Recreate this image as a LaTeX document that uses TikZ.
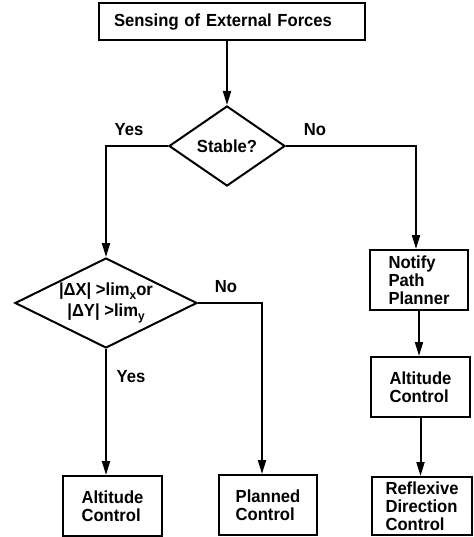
\documentclass[tikz,border=0pt]{standalone}
\usepackage{fontspec}
\setmainfont[FakeStretch=0.95]{Liberation Sans}
\usetikzlibrary{shapes.geometric,arrows.meta}
\newcommand{\lowsub}[1]{\raisebox{-3.5pt}{\fontsize{12.5}{12.5}\selectfont #1}}
\tikzset{
  every node/.style={font=\fontsize{17.5}{18}\selectfont\bfseries},
  box/.style={draw, line width=2pt, rectangle, inner sep=0pt, align=left},
  dec/.style={draw, line width=2pt, diamond, inner sep=0pt, align=center},
  lbl/.style={inner sep=0pt},
  conn/.style={line width=2pt},
  arr/.style={conn, -{Triangle[length=14pt,width=8pt]}},
}
\begin{document}
\begin{tikzpicture}[x=1pt,y=-1pt]
\useasboundingbox (0,0) rectangle (473,537);
% nodes
\node[box, minimum width=266pt, minimum height=37pt, text width=236pt, inner xsep=15pt] (sense) at (232,22) {Sensing of External Forces};
\node[dec, minimum width=116pt, minimum height=80pt] (stable) at (227,146) {Stable?};
\node[dec, minimum width=182pt, minimum height=90pt, aspect=2,
      font=\fontsize{17.5}{21}\selectfont\bfseries] (lim) at (106,303)
  {|ΔX| >lim\lowsub{x}or\\|ΔY| >lim\lowsub{y}};
\node[box, minimum width=98pt, minimum height=60pt] (notify) at (419,280) {Notify\\Path\\Planner};
\node[box, minimum width=99pt, minimum height=60pt] (alt2) at (420.5,387) {Altitude\\Control};
\node[box, minimum width=100pt, minimum height=58pt] (reflex) at (422,506) {Reflexive\\Direction\\Control};
\node[box, minimum width=99pt, minimum height=60pt] (alt1) at (112.5,506) {Altitude\\Control};
\node[box, minimum width=98pt, minimum height=60pt] (planned) at (268,505) {Planned\\Control};
% labels
\node[lbl] (yes1) at (129,130) {Yes};
\node[lbl] (no1) at (315,130) {No};
\node[lbl] (no2) at (226,287) {No};
\node[lbl] (yes2) at (131,377) {Yes};
% connectors
\draw[arr] (stable.north |- sense.south) -- (stable.north);
\draw[arr] (stable.west) -| (lim.north);
\draw[arr] (stable.east) -| ([xshift=-3pt]notify.north);
\draw[arr] (notify.south) -- (notify.south |- alt2.north);
\draw[arr] (alt2.south) -- (alt2.south |- reflex.north);
\draw[arr] (lim.east) -| ([xshift=-6pt]planned.north);
\draw[arr] (lim.south) -- (lim.south |- alt1.north);
\end{tikzpicture}
\end{document}
